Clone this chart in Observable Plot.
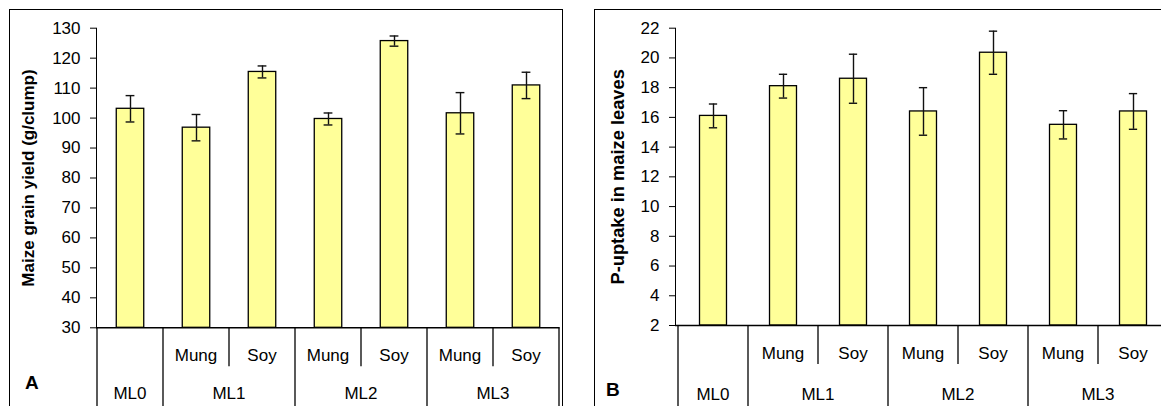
<!DOCTYPE html>
<html><head><meta charset="utf-8">
<script src="https://cdn.jsdelivr.net/npm/d3@7"></script>
<script src="https://cdn.jsdelivr.net/npm/@observablehq/plot@0.6"></script>
<style>
html,body{margin:0;padding:0;background:#fff;width:1161px;height:406px;overflow:hidden;}
body{position:relative;font-family:"Liberation Sans",Arial,sans-serif;}
.panel{position:absolute;border:1.5px solid #000;box-sizing:border-box;}
.tag{position:absolute;font-weight:bold;font-size:19px;color:#000;line-height:normal;}
.chart{position:absolute;top:0;}
</style></head><body>
<div class="panel" style="left:9px;top:9px;width:554px;height:460px"></div>
<div class="panel" style="left:593.5px;top:9px;width:700px;height:460px"></div>
<div id="a" class="chart" style="left:0px"></div>
<div id="b" class="chart" style="left:594px"></div>
<div class="tag" style="left:25px;top:372px">A</div>
<div class="tag" style="left:606px;top:379px">B</div>
<script>
// ---- data ----
const groups  = ["ML0", "ML1", "ML1", "ML2", "ML2", "ML3", "ML3"];
const legumes = ["", "Mung", "Soy", "Mung", "Soy", "Mung", "Soy"];
const yieldMean = [103.1, 96.8, 115.4, 99.7, 125.7, 101.6, 110.9];
const yieldErr  = [4.4, 4.4, 2.0, 2.0, 1.7, 6.9, 4.4];
const pMean = [16.1, 18.1, 18.6, 16.4, 20.35, 15.5, 16.4];
const pErr  = [0.8, 0.8, 1.65, 1.6, 1.45, 0.95, 1.2];
const yieldTicks = [30, 40, 50, 60, 70, 80, 90, 100, 110, 120, 130];
const pTicks = [2, 4, 6, 8, 10, 12, 14, 16, 18, 20, 22];
const titleA = "Maize grain yield (g/clump)";
const titleB = "P-uptake in maize leaves";

const keys = groups.map((g, i) => g + " " + legumes[i]);

function tableMark(opts) {
  return (index, scales, values, dims) => {
    const x = scales.x;
    const bw = x(keys[1]) - x(keys[0]);
    const y0 = dims.height - dims.marginBottom;
    const g = d3.create("svg:g");
    const lines = g.append("g").attr("stroke", "#000").attr("stroke-width", 1.3);
    keys.forEach((k, i) => {
      const left = x(k);
      const full = i === 0 || groups[i] !== groups[i - 1];
      lines.append("line").attr("x1", left).attr("x2", left)
        .attr("y1", y0).attr("y2", full ? dims.height : y0 + opts.subDepth);
    });
    const right = x(keys[keys.length - 1]) + bw;
    lines.append("line").attr("x1", right).attr("x2", right).attr("y1", y0).attr("y2", dims.height);
    const texts = g.append("g").attr("fill", "#000").attr("text-anchor", "middle").attr("font-size", 17);
    keys.forEach((k, i) => {
      if (legumes[i]) texts.append("text").attr("x", x(k) + bw / 2).attr("y", y0 + opts.subDy).attr("dy", "0.35em").text(legumes[i]);
    });
    const uniq = [...new Set(groups)];
    uniq.forEach(gr => {
      const first = groups.indexOf(gr), last = groups.lastIndexOf(gr);
      const cx = (x(keys[first]) + x(keys[last]) + bw) / 2;
      texts.append("text").attr("x", cx).attr("y", y0 + opts.grpDy).attr("dy", "0.35em").text(gr);
    });
    return g.node();
  };
}

function panel({width, marginLeft, marginRight, marginTop, marginBottom, mean, err, ticks, title, titleDx, titleSize, subDy, grpDy}) {
  const data = keys.map((k, i) => ({key: k, mean: mean[i], lo: mean[i] - err[i], hi: mean[i] + err[i]}));
  const bw = (width - marginLeft - marginRight) / keys.length;
  const barW = 27.7, capW = 9;
  const yMin = ticks[0], yMax = ticks[ticks.length - 1];
  return Plot.plot({
    width, height: 406, marginLeft, marginRight, marginTop, marginBottom,
    style: {fontFamily: "'Liberation Sans', Arial, sans-serif", fontSize: "17px", background: "transparent", maxWidth: "none", overflow: "visible", color: "#000"},
    x: {domain: keys, padding: 0, axis: null},
    y: {domain: [yMin, yMax], ticks, tickSize: 6, tickPadding: 10, line: true, label: null},
    marks: [
      Plot.barY(data, {x: "key", y1: yMin, y2: "mean", fill: "#FFFF99", stroke: "#000", strokeWidth: 1.3,
        insetLeft: (bw - barW) / 2, insetRight: (bw - barW) / 2}),
      Plot.ruleX(data, {x: "key", y1: "lo", y2: "hi", stroke: "#111", strokeWidth: 1.4}),
      Plot.tickY(data, {x: "key", y: "lo", stroke: "#111", strokeWidth: 1.4, insetLeft: (bw - capW) / 2, insetRight: (bw - capW) / 2}),
      Plot.tickY(data, {x: "key", y: "hi", stroke: "#111", strokeWidth: 1.4, insetLeft: (bw - capW) / 2, insetRight: (bw - capW) / 2}),
      Plot.ruleY([yMin], {stroke: "#000", strokeWidth: 1.4}),
      Plot.text([title], {text: d => d, frameAnchor: "left", dx: -titleDx, rotate: -90, textAnchor: "middle", fontWeight: "bold", fontSize: titleSize, fill: "#000"}),
      tableMark({subDepth: 39, subDy: subDy, grpDy: grpDy})
    ]
  });
}

document.getElementById("a").appendChild(panel({
  width: 580, marginLeft: 96, marginRight: 20.5, marginTop: 27.7, marginBottom: 78.7,
  mean: yieldMean, err: yieldErr, ticks: yieldTicks, title: titleA, titleDx: 68, titleSize: 17, subDy: 28, grpDy: 66
}));
document.getElementById("b").appendChild(panel({
  width: 586, marginLeft: 81, marginRight: 10, marginTop: 27.7, marginBottom: 81,
  mean: pMean, err: pErr, ticks: pTicks, title: titleB, titleDx: 57, titleSize: 18.3, subDy: 28, grpDy: 69
}));
</script>
</body></html>
